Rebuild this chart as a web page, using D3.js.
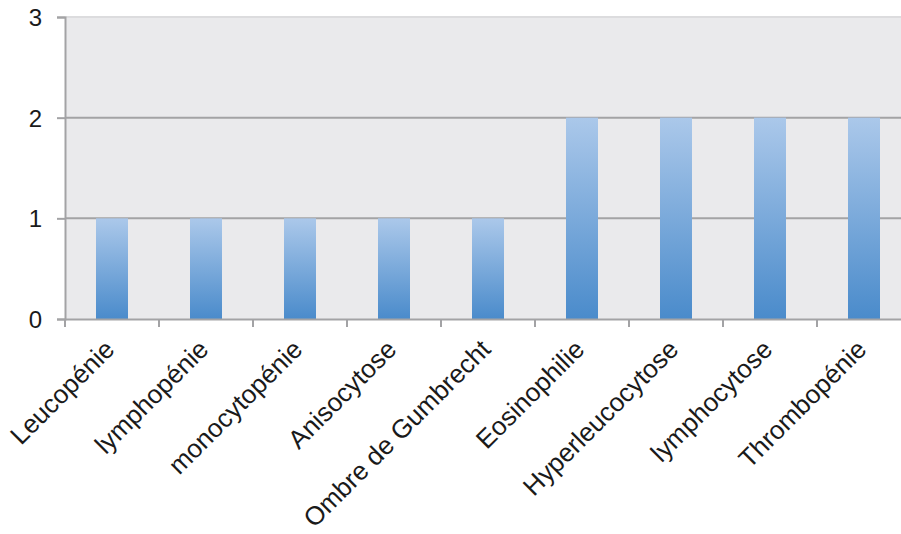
<!DOCTYPE html>
<html lang="fr">

<head>
    <meta charset="UTF-8" />
    <title>Anomalies hématologiques</title>
    <script src="https://d3js.org/d3.v7.min.js"></script>
    <style>
        body {
            margin: 0;
            background: #fff;
            font-family: "Liberation Sans", Arial, sans-serif;
        }

        svg {
            display: block;
        }

        .tick-label {
            font-size: 24px;
            fill: #1a1a1a;
        }

        .cat-label {
            font-size: 26px;
            fill: #1a1a1a;
        }
    </style>
</head>

<body>
    <div id="chart"></div>

    <script>
        const categories = ["Leucopénie", "lymphopénie", "monocytopénie", "Anisocytose", "Ombre de Gumbrecht",
            "Eosinophilie", "Hyperleucocytose", "lymphocytose", "Thrombopénie"];
        const values = [1, 1, 1, 1, 1, 2, 2, 2, 2];
        const yTicks = [0, 1, 2, 3];

        const W = 901, H = 534;
        const margin = { top: 17, left: 65 };
        const band = 94;
        const plotW = band * categories.length;
        const plotH = 302;

        const svg = d3.select("#chart")
            .append("svg")
            .attr("width", W)
            .attr("height", H);

        const defs = svg.append("defs");
        const grad = defs.append("linearGradient")
            .attr("id", "barGrad")
            .attr("x1", 0).attr("y1", 0)
            .attr("x2", 0).attr("y2", 1);
        grad.append("stop").attr("offset", "0%").attr("stop-color", "#abc8ea");
        grad.append("stop").attr("offset", "100%").attr("stop-color", "#4a8bcb");

        const x = d3.scaleBand()
            .domain(categories)
            .range([margin.left, margin.left + plotW])
            .paddingInner(0)
            .paddingOuter(0);

        const y = d3.scaleLinear()
            .domain([0, 3])
            .range([margin.top + plotH, margin.top]);

        // plot background
        svg.append("rect")
            .attr("x", margin.left)
            .attr("y", margin.top)
            .attr("width", plotW)
            .attr("height", plotH)
            .attr("fill", "#eaeaec");

        // gridlines
        svg.append("g")
            .selectAll("line")
            .data(yTicks.filter(d => d > 0))
            .enter().append("line")
            .attr("x1", margin.left)
            .attr("x2", margin.left + plotW)
            .attr("y1", d => y(d))
            .attr("y2", d => y(d))
            .attr("stroke", d => d === 3 ? "#dcdcde" : "#a3a3a5")
            .attr("stroke-width", 2);

        // bars
        const barW = 32;
        svg.append("g")
            .selectAll("rect")
            .data(categories)
            .enter().append("rect")
            .attr("x", d => x(d) + x.bandwidth() / 2 - barW / 2)
            .attr("y", (d, i) => y(values[i]))
            .attr("width", barW)
            .attr("height", (d, i) => y(0) - y(values[i]))
            .attr("fill", "url(#barGrad)");

        // y axis
        const yAxis = svg.append("g")
            .attr("transform", `translate(${margin.left},0)`)
            .call(d3.axisLeft(y).tickValues(yTicks).tickSize(8).tickPadding(15).tickFormat(d3.format("d")));
        yAxis.select(".domain").attr("stroke", "#a3a3a5").attr("stroke-width", 2);
        yAxis.selectAll(".tick line").attr("stroke", "#a3a3a5").attr("stroke-width", 2);
        yAxis.selectAll(".tick text")
            .attr("class", "tick-label")
            .attr("font-family", null)
            .attr("font-size", null)
            .attr("dy", "0.36em");

        // x axis
        const xAxis = svg.append("g")
            .attr("transform", `translate(0,${y(0)})`)
            .call(d3.axisBottom(x).tickSize(0).tickFormat(""));
        xAxis.select(".domain").attr("stroke", "#a3a3a5").attr("stroke-width", 2);

        // category separator ticks
        svg.append("g")
            .selectAll("line")
            .data(d3.range(categories.length + 1))
            .enter().append("line")
            .attr("x1", i => margin.left + i * x.step())
            .attr("x2", i => margin.left + i * x.step())
            .attr("y1", y(0))
            .attr("y2", y(0) + 8)
            .attr("stroke", "#a3a3a5")
            .attr("stroke-width", 2);

        // rotated category labels
        svg.append("g")
            .selectAll("text")
            .data(categories)
            .enter().append("text")
            .attr("class", "cat-label")
            .attr("text-anchor", "end")
            .attr("transform", d => `translate(${x(d) + x.bandwidth() / 2 + 4},${y(0) + 32}) rotate(-45)`)
            .text(d => d);
    </script>

</body>

</html>
